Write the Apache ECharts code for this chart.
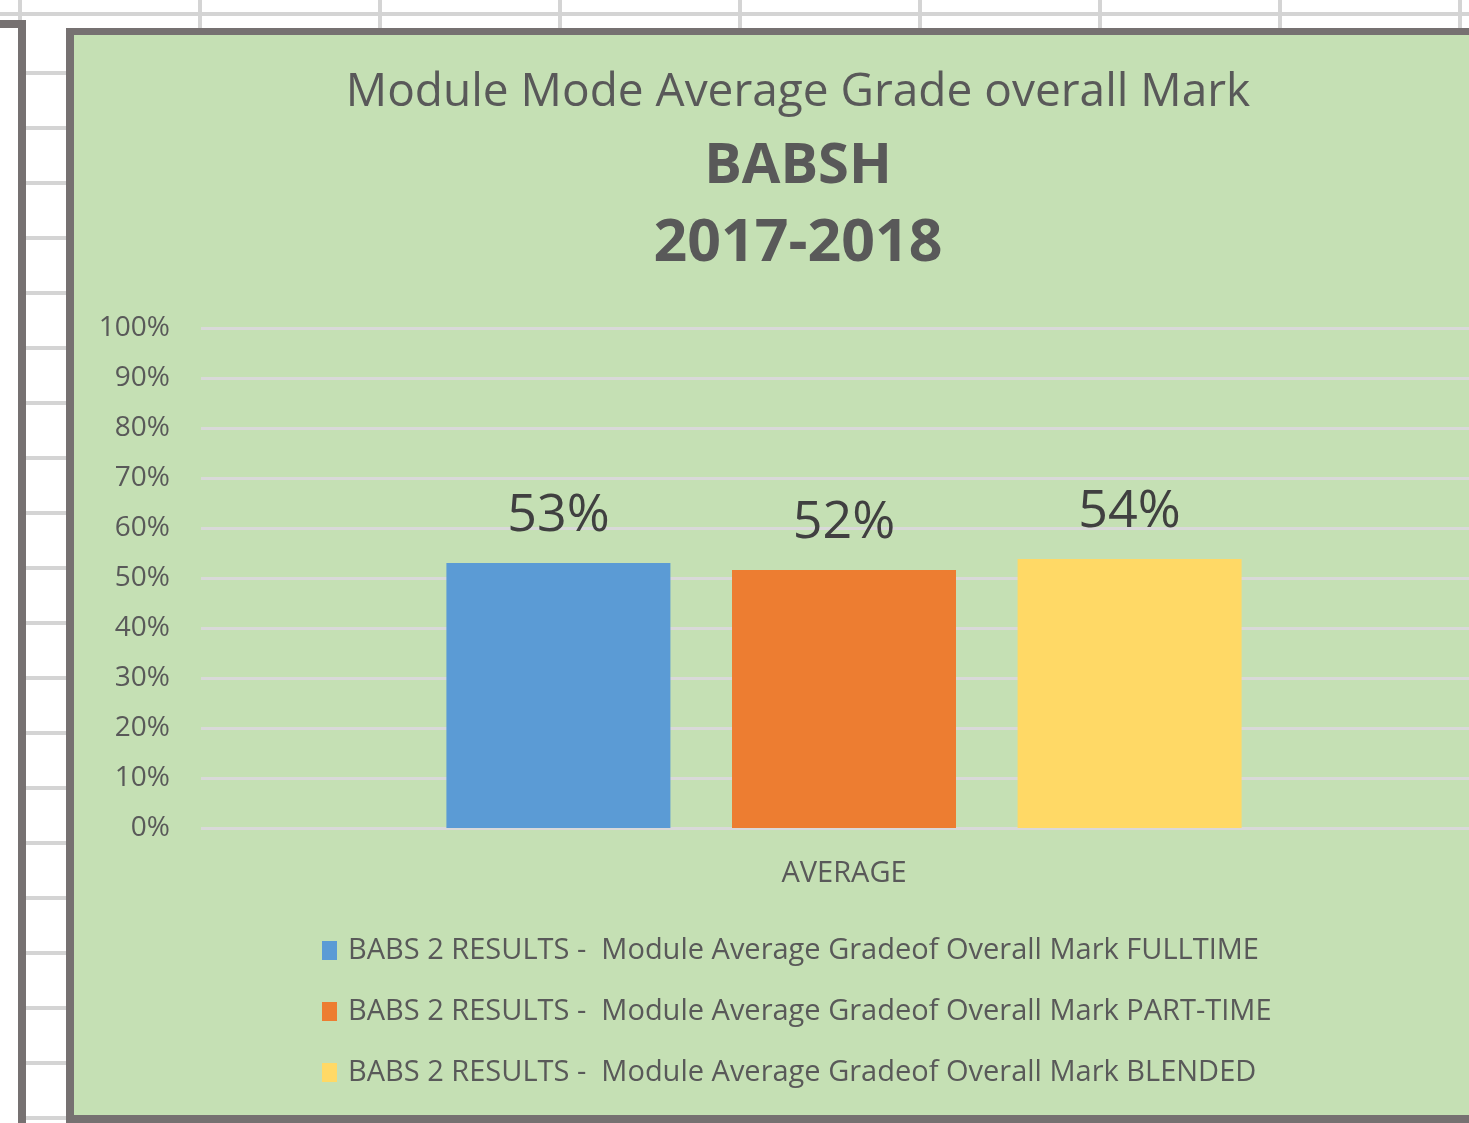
<!DOCTYPE html>
<html>
<head>
<meta charset="utf-8">
<script src="https://cdn.jsdelivr.net/npm/echarts@6/dist/echarts.min.js"></script>
<style>
  html, body { margin:0; padding:0; width:1469px; height:1123px; overflow:hidden; background:#ffffff; position:relative; }
  .g { position:absolute; background:#D4D4D4; }
  .d { position:absolute; background:#767171; }
  #frame { position:absolute; left:66px; top:28px; width:1600px; height:1095px; background:#767171; }
  #chart { position:absolute; left:74px; top:35px; width:1448px; height:1080px; }
</style>
</head>
<body>
<div id="decor"></div>
<div id="frame"></div>
<div id="chart"></div>
<script>
// ---- data ----
const TITLE_LINES = ['Module Mode Average Grade overall Mark', 'BABSH', '2017-2018'];
const CATEGORIES = ['AVERAGE'];
const SERIES_NAMES = [
  'BABS 2 RESULTS -  Module Average Gradeof Overall Mark FULLTIME',
  'BABS 2 RESULTS -  Module Average Gradeof Overall Mark PART-TIME',
  'BABS 2 RESULTS -  Module Average Gradeof Overall Mark BLENDED'
];
const FULLTIME = [0.53];
const PARTTIME = [0.516];
const BLENDED = [0.538];
const Y_TICK_LABELS = ['0%','10%','20%','30%','40%','50%','60%','70%','80%','90%','100%'];
const COLORS = ['#5B9BD5', '#ED7D31', '#FFD966'];

// ---- spreadsheet background decoration ----
(function(){
  const decor = document.getElementById('decor');
  function add(cls, l, t, w, h){
    const e = document.createElement('div');
    e.className = cls;
    e.style.left = l + 'px'; e.style.top = t + 'px';
    e.style.width = w + 'px'; e.style.height = h + 'px';
    decor.appendChild(e);
  }
  add('g', 0, 12, 1469, 4);
  for (let x = 18; x < 1469; x += 180) add('g', x, 0, 4, 28);
  for (let y = 71; y < 1123; y += 55) add('g', 26, y, 40, 4);
  add('d', 0, 20, 26, 8);
  add('d', 18, 20, 8, 1103);
})();

const FONT = 'Open Sans';
const chart = echarts.init(document.getElementById('chart'), null, {renderer:'canvas'});
const seriesData = [FULLTIME, PARTTIME, BLENDED];

chart.setOption({
  backgroundColor: '#C5E0B4',
  animation: false,
  title: [
    { text: TITLE_LINES[0], left: 'center', top: 30,
      textStyle: { fontFamily: FONT, fontSize: 46, fontWeight: 'normal', color: '#595959' } },
    { text: TITLE_LINES[1], left: 'center', top: 99,
      textStyle: { fontFamily: FONT, fontSize: 56, fontWeight: 'bold', color: '#595959' } },
    { text: TITLE_LINES[2], left: 'center', top: 175,
      textStyle: { fontFamily: FONT, fontSize: 59, fontWeight: 'bold', color: '#595959' } }
  ],
  grid: { left: 127, top: 293, width: 1286, height: 500, containLabel: false },
  xAxis: {
    type: 'category',
    data: CATEGORIES,
    axisLine: { show: false },
    axisTick: { show: false },
    axisLabel: { margin: 31, fontFamily: FONT, fontSize: 29, color: '#595959' }
  },
  yAxis: {
    type: 'value',
    min: 0, max: 1, interval: 0.1,
    axisLine: { show: false },
    axisTick: { show: false },
    splitLine: { lineStyle: { color: '#D9D9D9', width: 3 } },
    axisLabel: {
      margin: 31, fontFamily: FONT, fontSize: 28, color: '#595959',
      formatter: function(v){ return Y_TICK_LABELS[Math.round(v * 10)]; }
    }
  },
  legend: {
    orient: 'vertical',
    left: 243, top: 896,
    itemWidth: 15, itemHeight: 19,
    itemGap: 32,
    icon: 'rect',
    textStyle: { fontFamily: FONT, fontSize: 29, lineHeight: 28, color: '#595959', padding: [0,0,0,6] },
    data: SERIES_NAMES
  },
  series: SERIES_NAMES.map(function(name, i){
    return {
      name: name,
      type: 'bar',
      data: seriesData[i],
      barWidth: 224,
      barGap: '27.5%',
      itemStyle: { color: COLORS[i] },
      label: {
        show: true, position: 'top', distance: 21,
        fontFamily: FONT, fontSize: 52, color: '#404040',
        formatter: function(p){ return Math.round(p.value * 100) + '%'; }
      }
    };
  })
});
</script>
</body>
</html>
